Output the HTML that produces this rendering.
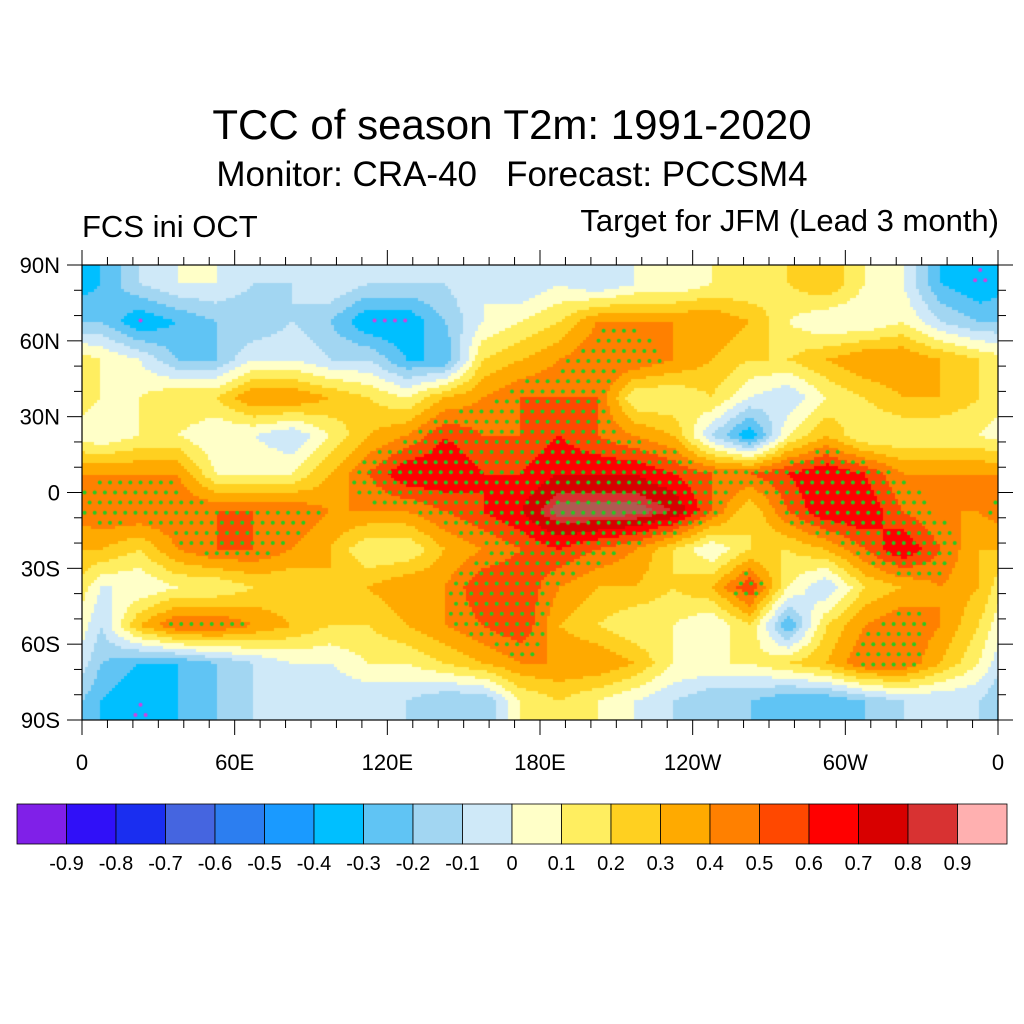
<!DOCTYPE html>
<html><head><meta charset="utf-8">
<style>
body{margin:0;background:#fff;width:1024px;height:1024px;position:relative;overflow:hidden;font-family:"Liberation Sans",sans-serif;}
.t{position:absolute;white-space:nowrap;color:#000;}
</style></head>
<body>
<div class="t" style="left:0;width:1024px;text-align:center;top:101px;font-size:42px;">TCC of season T2m: 1991-2020</div>
<div class="t" style="left:0;width:1024px;text-align:center;top:155px;font-size:35px;">Monitor: CRA-40&nbsp;&nbsp;&nbsp;Forecast: PCCSM4</div>
<div class="t" style="left:82px;top:209px;font-size:31px;">FCS ini OCT</div>
<div class="t" style="right:25px;top:203px;font-size:31px;">Target for JFM (Lead 3 month)</div>
<canvas id="map" width="916" height="455" style="position:absolute;left:82px;top:265px;"></canvas>
<svg id="ax" width="1024" height="1024" style="position:absolute;left:0;top:0;"></svg>
<script>
const latCenters=[82.5,67.5,52.5,37.5,22.5,7.5,-7.5,-22.5,-37.5,-52.5,-67.5,-82.5];
const row0=[-0.3,-0.1,0,0,-0.1,-0.1,0,-0.1,-0.1,-0.1,0,-0.1,0,-0.1,0,0,0.1,0.1,0.2,0.3,0.1,0,-0.3,-0.4];
const row1=[-0.2,-0.4,-0.3,-0.2,-0.2,-0.1,-0.2,-0.4,-0.4,-0.2,0,0.1,0.2,0.4,0.4,0.4,0.4,0.3,0.1,0,0,0.1,-0.1,-0.2];
const row2=[0.1,0,-0.2,-0.2,0,0,-0.1,-0.1,-0.3,-0.3,0.2,0.3,0.4,0.5,0.5,0.4,0.3,0.2,0.2,0.3,0.4,0.4,0.3,0.2];
const row3=[0.1,0.1,0.2,0.2,0.4,0.4,0.3,0.2,0.1,0.3,0.4,0.5,0.5,0.5,0.1,0.1,0.2,0,-0.1,0.1,0.2,0.3,0.3,0.2];
const row4=[0,0.1,0.1,0,0,-0.1,0.1,0.3,0.4,0.6,0.5,0.5,0.6,0.5,0.4,0.3,-0.1,-0.4,0.1,0.3,0.1,0.1,0.1,0.1];
const row5=[0.4,0.4,0.4,0.1,0.1,0.1,0.3,0.5,0.7,0.7,0.6,0.6,0.7,0.7,0.7,0.6,0.5,0.5,0.6,0.7,0.6,0.4,0.4,0.4];
const row6=[0.5,0.5,0.5,0.5,0.5,0.5,0.4,0.4,0.4,0.5,0.6,0.7,0.9,0.9,0.9,0.8,0.5,0.2,0.5,0.7,0.7,0.5,0.4,0.4];
const row7=[0.3,0.2,0.4,0.5,0.5,0.4,0.3,0.1,0.1,0.3,0.4,0.5,0.6,0.5,0.4,0.2,0,0.2,0.2,0.3,0.5,0.7,0.5,0.3];
const row8=[0,0,0.1,0.1,0.2,0.2,0.3,0.3,0.4,0.4,0.6,0.6,0.4,0.3,0.3,0.2,0.3,0.6,0.1,-0.1,0.2,0.3,0.4,0.3];
const row9=[-0.1,0.3,0.5,0.5,0.4,0.3,0.2,0.2,0.3,0.4,0.5,0.6,0.3,0.2,0.1,0.1,0,0.2,-0.3,0.2,0.4,0.5,0.4,0.2];
const row10=[-0.2,-0.3,-0.3,-0.2,-0.1,0,0,0.1,0.1,0.2,0.3,0.4,0.4,0.4,0.3,0.1,0.1,0.1,0.2,0.3,0.5,0.5,0.3,0.1];
const row11=[-0.3,-0.4,-0.3,-0.2,-0.1,-0.1,-0.1,-0.1,-0.1,-0.2,-0.2,0.1,0.2,0.1,0,-0.1,-0.2,-0.2,-0.3,-0.3,-0.2,-0.1,-0.1,-0.1];
const grid=[row0,row1,row2,row3,row4,row5,row6,row7,row8,row9,row10,row11];
const levelColors=["#8020e8","#3010f8","#1a2ef0","#4565e0","#2c7ef0","#1a9aff","#00bfff","#60c4f4","#a2d6f2","#cfe9f8","#ffffc8","#ffee60","#ffd020","#ffaa00","#ff8000","#ff4800","#ff0000","#d80000","#d83232","#ffb0b0"];
const levelLabels=["-0.9","-0.8","-0.7","-0.6","-0.5","-0.4","-0.3","-0.2","-0.1","0","0.1","0.2","0.3","0.4","0.5","0.6","0.7","0.8","0.9"];
const latTicks=[90,60,30,0,-30,-60,-90];
const latTickLabels=["90N","60N","30N","0","30S","60S","90S"];
const lonTicks=[0,60,120,180,240,300,360];
const lonTickLabels=["0","60E","120E","180E","120W","60W","0"];

const X0=82,X1=998,Y0=265,Y1=720;
const xs=lon=>X0+(lon/360)*(X1-X0);
const ys=lat=>Y0+((90-lat)/180)*(Y1-Y0);

function sample(lon,lat){
  let fc=lon/15-0.5, fr=(82.5-lat)/15;
  fr=Math.max(0,Math.min(11,fr));
  const r0=Math.floor(fr), r1=Math.min(11,r0+1), tr=fr-r0;
  let c0=Math.floor(fc), tc=fc-c0;
  const cA=(c0+24)%24, cB=(c0+25)%24;
  const a=grid[r0][cA]*(1-tc)+grid[r0][cB]*tc;
  const b=grid[r1][cA]*(1-tc)+grid[r1][cB]*tc;
  return a*(1-tr)+b*tr;
}
function colorFor(v){
  if(v>=0.85) return "#b05a52";
  let i=Math.floor(v*10+1e-6)+10; i=Math.max(0,Math.min(19,i));
  return levelColors[i];
}
const cv=document.getElementById('map'),ctx=cv.getContext('2d');
const W=916,H=455,S=3;
for(let py=0;py<H;py+=S){for(let px=0;px<W;px+=S){
  const lon=(px+S/2)/W*360, lat=90-(py+S/2)/H*180;
  ctx.fillStyle=colorFor(sample(lon,lat));ctx.fillRect(px,py,S,S);
}}
for(let lat=88,k=0;lat>-90;lat-=4,k++){
  for(let lon=(k%2?2:0)+1;lon<360;lon+=4){
    const v=sample(lon,lat);
    let c=null;
    if(v>=0.42)c="#22cc22"; else if(v<=-0.38)c="#d040e0";
    if(c){ctx.fillStyle=c;ctx.beginPath();ctx.arc(lon/360*W,(90-lat)/180*H,2,0,7);ctx.fill();}
  }
}
const svg=document.getElementById('ax'),NS="http://www.w3.org/2000/svg";
function mk(t,at,p){const e=document.createElementNS(NS,t);for(const k in at)e.setAttribute(k,at[k]);(p||svg).appendChild(e);return e;}
const frame=mk('rect',{x:X0,y:Y0,width:X1-X0,height:Y1-Y0,fill:'none',stroke:'#000','stroke-width':1.2});


for(let lat=-90;lat<=90;lat+=10){
  const maj=lat%30===0,L=maj?15:8,y=ys(lat);
  const t1=mk('line',{x1:X0-L,x2:X0,y1:y,y2:y,stroke:'#000','stroke-width':1});
  
  
  const t2=mk('line',{x1:X1,x2:X1+L,y1:y,y2:y,stroke:'#000','stroke-width':1});
  
  
}
for(let lon=0;lon<=360;lon+=10){
  const maj=lon%60===0,L=maj?15:8,x=xs(lon);
  const t1=mk('line',{x1:x,x2:x,y1:Y1,y2:Y1+L,stroke:'#000','stroke-width':1});
  
  
  const t2=mk('line',{x1:x,x2:x,y1:Y0-L,y2:Y0,stroke:'#000','stroke-width':1});
  
  
}
latTicks.forEach((lat,i)=>{
  const t=mk('text',{x:60,y:ys(lat)+8,'text-anchor':'end','font-size':22,'font-family':'Liberation Sans, sans-serif'});
  t.textContent=latTickLabels[i];
  
  
});
lonTicks.forEach((lon,i)=>{
  const t=mk('text',{x:xs(lon),y:770,'text-anchor':'middle','font-size':22,'font-family':'Liberation Sans, sans-serif'});
  t.textContent=lonTickLabels[i];
  
  
});
const CB0=17,CB1=1007,CBY=804,CBH=40,bw=(CB1-CB0)/levelColors.length;
levelColors.forEach((c,i)=>{
  const r=mk('rect',{x:CB0+i*bw,y:CBY,width:bw,height:CBH,fill:c,stroke:'#000','stroke-width':0.8});
  
  
});
levelLabels.forEach((l,i)=>{
  const t=mk('text',{x:CB0+(i+1)*bw,y:870,'text-anchor':'middle','font-size':20,'font-family':'Liberation Sans, sans-serif'});
  t.textContent=l;
  
  
});
</script>
</body></html>
